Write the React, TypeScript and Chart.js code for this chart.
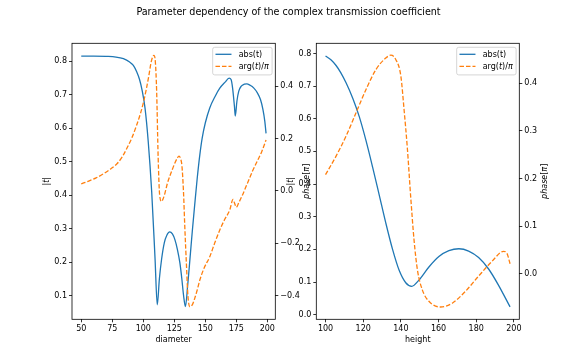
import { useEffect, useRef } from "react";
import { Chart, registerables } from "chart.js";
Chart.register(...registerables);

const TITLE = "Parameter dependency of the complex transmission coefficient";

// ---- left panel: diameter sweep ----
const diameterAbsX = [50, 60, 70, 78, 84, 89, 92, 94.7, 97, 99, 101.4, 104, 106.8, 109.5, 111.3, 113, 114.8, 117, 119, 121.3, 123.5, 125.5, 127.5, 129.5, 131, 132.5, 134, 135.8, 137.6, 139.6, 141.6, 143.5, 145.6, 147.5, 150, 153.6, 158, 161.7, 166, 169.2, 170.8, 172, 173.5, 174.2, 175.5, 177, 179, 181.5, 183.5, 186, 189, 192, 194.5, 196.5, 198, 199];
const diameterAbsY = [0.815, 0.815, 0.814, 0.812, 0.807, 0.797, 0.787, 0.768, 0.745, 0.714, 0.66, 0.56, 0.41, 0.21, 0.072, 0.15, 0.209, 0.258, 0.28, 0.29, 0.284, 0.267, 0.238, 0.198, 0.153, 0.1, 0.067, 0.13, 0.207, 0.295, 0.376, 0.45, 0.52, 0.57, 0.615, 0.66, 0.695, 0.719, 0.737, 0.749, 0.745, 0.72, 0.665, 0.636, 0.68, 0.71, 0.725, 0.731, 0.732, 0.728, 0.72, 0.705, 0.685, 0.655, 0.62, 0.584];
const diameterArgX = [50, 56, 62, 68, 74, 79, 83, 87, 91, 94.7, 98, 100.5, 102.5, 104.5, 106.5, 108.6, 109.8, 110.8, 112, 113.2, 114.8, 116, 117.5, 119.5, 121.5, 123.5, 125.5, 127.5, 128.8, 130.2, 131.2, 132.4, 133.6, 134.8, 136, 137.6, 139.5, 141.5, 143.5, 145.6, 149, 153.6, 157.5, 161.7, 165.5, 169.7, 172.4, 173.5, 175, 177, 180, 184, 188, 192, 195.5, 199];
const diameterArgY = [0.027, 0.038, 0.05, 0.066, 0.085, 0.105, 0.13, 0.165, 0.205, 0.252, 0.3, 0.345, 0.39, 0.44, 0.495, 0.518, 0.49, 0.38, 0.13, -0.015, -0.04, -0.03, -0.008, 0.03, 0.058, 0.083, 0.107, 0.126, 0.133, 0.122, 0.095, 0.0, -0.15, -0.28, -0.4, -0.442, -0.435, -0.41, -0.378, -0.34, -0.295, -0.251, -0.2, -0.149, -0.11, -0.073, -0.032, -0.045, -0.062, -0.045, -0.015, 0.03, 0.075, 0.115, 0.15, 0.195];

// ---- right panel: height sweep ----
const heightAbsX = [100, 103, 105.6, 108, 110.9, 114.5, 118, 121.5, 125, 128.5, 132, 135.6, 139.1, 142.6, 145.8, 149.6, 154.9, 160.2, 165.5, 170.8, 176, 181.3, 186.6, 191.9, 198];
const heightAbsY = [0.792, 0.78, 0.763, 0.742, 0.71, 0.662, 0.605, 0.533, 0.452, 0.367, 0.281, 0.2, 0.136, 0.098, 0.087, 0.106, 0.146, 0.178, 0.196, 0.202, 0.195, 0.175, 0.14, 0.09, 0.024];
const heightArgX = [100, 105.6, 110.9, 116.2, 121.5, 126.8, 132, 134.7, 137.3, 140, 141.7, 143.5, 145.2, 147, 148.8, 151.4, 154.9, 161.1, 167.3, 174.3, 181.3, 188.4, 194.5, 196.3, 198];
const heightArgY = [0.208, 0.247, 0.289, 0.338, 0.387, 0.429, 0.453, 0.459, 0.45, 0.415, 0.345, 0.261, 0.163, 0.071, 0.008, -0.034, -0.058, -0.07, -0.062, -0.037, -0.005, 0.026, 0.047, 0.043, 0.021];

// ---- ticks ----
const diameterTicks = [50, 75, 100, 125, 150, 175, 200];
const diameterTickLabels = ["50", "75", "100", "125", "150", "175", "200"];
const diameterAbsTicks = [0.1, 0.2, 0.3, 0.4, 0.5, 0.6, 0.7, 0.8];
const diameterAbsTickLabels = ["0.1", "0.2", "0.3", "0.4", "0.5", "0.6", "0.7", "0.8"];
const diameterArgTicks = [-0.4, -0.2, 0, 0.2, 0.4];
const diameterArgTickLabels = ["\u22120.4", "\u22120.2", "0.0", "0.2", "0.4"];

const heightTicks = [100, 120, 140, 160, 180, 200];
const heightTickLabels = ["100", "120", "140", "160", "180", "200"];
const heightAbsTicks = [0, 0.1, 0.2, 0.3, 0.4, 0.5, 0.6, 0.7, 0.8];
const heightAbsTickLabels = ["0.0", "0.1", "0.2", "0.3", "0.4", "0.5", "0.6", "0.7", "0.8"];
const heightArgTicks = [0, 0.1, 0.2, 0.3, 0.4];
const heightArgTickLabels = ["0.0", "0.1", "0.2", "0.3", "0.4"];

const FONT = '"DejaVu Sans", "Liberation Sans", sans-serif';
const BLUE = "#1f77b4";
const ORANGE = "#ff7f0e";
const W = 577;
const H = 359;

type Seg = { t: string; i?: boolean };

function fontStr(size: number, italic?: boolean) {
  return `${italic ? "italic " : ""}${size}px ${FONT}`;
}
function richWidth(ctx: CanvasRenderingContext2D, segs: Seg[], size: number) {
  let w = 0;
  for (const s of segs) {
    ctx.font = fontStr(size, s.i);
    w += ctx.measureText(s.t).width;
  }
  return w;
}
function drawRich(ctx: CanvasRenderingContext2D, segs: Seg[], size: number, x: number, y: number) {
  let cx = x;
  ctx.textAlign = "left";
  for (const s of segs) {
    ctx.font = fontStr(size, s.i);
    ctx.fillText(s.t, cx, y);
    cx += ctx.measureText(s.t).width;
  }
}

const absLabel: Seg[] = [{ t: "abs(t)" }];
const argLabel: Seg[] = [{ t: "arg(" }, { t: "t", i: true }, { t: ")/" }, { t: "\u03c0", i: true }];
const absAxisLabel: Seg[] = [{ t: "|" }, { t: "t", i: true }, { t: "|" }];
const phaseAxisLabel: Seg[] = [{ t: "phase", i: true }, { t: "[" }, { t: "\u03c0", i: true }, { t: "]" }];

type Panel = {
  area: { left: number; top: number; right: number; bottom: number };
  absX: number[]; absY: number[]; argX: number[]; argY: number[];
  xMin: number; xMax: number; yMin: number; yMax: number; y1Min: number; y1Max: number;
  xTicks: number[]; xLabels: string[];
  yTicks: number[]; yLabels: string[];
  y1Ticks: number[]; y1Labels: string[];
  xTitle: string;
  yTitleOffset: number;
  y1TitleOffset: number;
  drawTitle: boolean;
};

const decorPlugin = {
  id: "decor",
  afterDraw(chart: any, _args: any, opts: any) {
    const p: Panel = opts.panel;
    const ctx: CanvasRenderingContext2D = chart.ctx;
    const a = chart.chartArea;
    ctx.save();
    // frame
    ctx.strokeStyle = "#000";
    ctx.lineWidth = 0.8;
    ctx.strokeRect(a.left, a.top, a.right - a.left, a.bottom - a.top);

    // legend
    const fs = 8;
    const tw = Math.max(richWidth(ctx, absLabel, fs), richWidth(ctx, argLabel, fs));
    const bw = 2.8 + 16 + 7.2 + tw + 3.4;
    const bh = 27.6;
    const bx = a.right - 3.2 - bw;
    const by = a.top + 4;
    ctx.beginPath();
    const r = 2;
    ctx.moveTo(bx + r, by);
    ctx.lineTo(bx + bw - r, by);
    ctx.arcTo(bx + bw, by, bx + bw, by + r, r);
    ctx.lineTo(bx + bw, by + bh - r);
    ctx.arcTo(bx + bw, by + bh, bx + bw - r, by + bh, r);
    ctx.lineTo(bx + r, by + bh);
    ctx.arcTo(bx, by + bh, bx, by + bh - r, r);
    ctx.lineTo(bx, by + r);
    ctx.arcTo(bx, by, bx + r, by, r);
    ctx.closePath();
    ctx.fillStyle = "rgba(255,255,255,0.8)";
    ctx.fill();
    ctx.strokeStyle = "#cccccc";
    ctx.lineWidth = 0.8;
    ctx.stroke();
    const rows = [
      { segs: absLabel, color: BLUE, dash: [] as number[] },
      { segs: argLabel, color: ORANGE, dash: [4.5, 2] },
    ];
    rows.forEach((row, i) => {
      const cy = by + 7 + i * 12;
      ctx.beginPath();
      ctx.setLineDash(row.dash);
      ctx.strokeStyle = row.color;
      ctx.lineWidth = 1.3;
      ctx.moveTo(bx + 2.8, cy);
      ctx.lineTo(bx + 18.8, cy);
      ctx.stroke();
      ctx.setLineDash([]);
      ctx.fillStyle = "#000";
      ctx.textBaseline = "middle";
      drawRich(ctx, row.segs, fs, bx + 26, cy + 0.5);
    });

    // axis titles
    ctx.fillStyle = "#000";
    ctx.textBaseline = "alphabetic";
    ctx.font = fontStr(8);
    ctx.textAlign = "center";
    ctx.fillText(p.xTitle, (a.left + a.right) / 2, a.bottom + 23);
    const cy = (a.top + a.bottom) / 2;
    const rot = (segs: Seg[], x: number) => {
      ctx.save();
      ctx.translate(x, cy);
      ctx.rotate(-Math.PI / 2);
      ctx.textBaseline = "middle";
      const w = richWidth(ctx, segs, 8);
      drawRich(ctx, segs, 8, -w / 2, 0);
      ctx.restore();
    };
    rot(absAxisLabel, a.left - p.yTitleOffset);
    rot(phaseAxisLabel, a.right + p.y1TitleOffset);

    if (p.drawTitle) {
      ctx.font = fontStr(9.6);
      ctx.textAlign = "center";
      ctx.textBaseline = "alphabetic";
      ctx.fillText(TITLE, W / 2, 14.5);
    }
    ctx.restore();
  },
};

function makeConfig(p: Panel): any {
  const yW = 40, y1W = 40, xH = 25;
  const tickFont = { family: FONT, size: 8 };
  const grid = { display: true, drawOnChartArea: false, drawTicks: true, tickLength: 3, color: "#000", lineWidth: 0.8 };
  const setTicks = (vals: number[]) => (s: any) => {
    s.ticks = vals.map((v) => ({ value: v }));
  };
  return {
    type: "line",
    data: {
      datasets: [
        {
          label: "arg(t)/\u03c0",
          data: p.argX.map((x, i) => ({ x, y: p.argY[i] })),
          borderColor: ORANGE,
          borderWidth: 1.3,
          borderDash: [4.5, 2],
          pointRadius: 0,
          cubicInterpolationMode: "monotone",
          yAxisID: "y1",
          order: 0,
        },
        {
          label: "abs(t)",
          data: p.absX.map((x, i) => ({ x, y: p.absY[i] })),
          borderColor: BLUE,
          borderWidth: 1.3,
          pointRadius: 0,
          cubicInterpolationMode: "monotone",
          yAxisID: "y",
          order: 1,
        },
      ],
    },
    options: {
      animation: false,
      responsive: false,
      events: [],
      layout: {
        padding: {
          left: p.area.left - yW,
          right: W - p.area.right - y1W,
          top: p.area.top,
          bottom: H - p.area.bottom - xH,
        },
      },
      plugins: {
        legend: { display: false },
        title: { display: false },
        tooltip: { enabled: false },
        decor: { panel: p },
      },
      scales: {
        x: {
          type: "linear",
          position: "bottom",
          min: p.xMin,
          max: p.xMax,
          afterBuildTicks: setTicks(p.xTicks),
          afterFit: (s: any) => { s.height = xH; },
          ticks: { autoSkip: false, maxRotation: 0, padding: 2, color: "#000", font: tickFont, callback: (_v: any, i: number) => p.xLabels[i] },
          grid,
          border: { display: false },
        },
        y: {
          type: "linear",
          position: "left",
          min: p.yMin,
          max: p.yMax,
          afterBuildTicks: setTicks(p.yTicks),
          afterFit: (s: any) => { s.width = yW; },
          ticks: { autoSkip: false, padding: 2, color: "#000", font: tickFont, callback: (_v: any, i: number) => p.yLabels[i] },
          grid,
          border: { display: false },
        },
        y1: {
          type: "linear",
          position: "right",
          min: p.y1Min,
          max: p.y1Max,
          afterBuildTicks: setTicks(p.y1Ticks),
          afterFit: (s: any) => { s.width = y1W; },
          ticks: { autoSkip: false, padding: 2, color: "#000", font: tickFont, callback: (_v: any, i: number) => p.y1Labels[i] },
          grid,
          border: { display: false },
        },
      },
    },
    plugins: [decorPlugin],
  };
}

const leftPanel: Panel = {
  area: { left: 72, top: 43.3, right: 275.3, bottom: 319.3 },
  absX: diameterAbsX, absY: diameterAbsY, argX: diameterArgX, argY: diameterArgY,
  xMin: 42.55, xMax: 206.45, yMin: 0.029, yMax: 0.853, y1Min: -0.49, y1Max: 0.564,
  xTicks: diameterTicks, xLabels: diameterTickLabels,
  yTicks: diameterAbsTicks, yLabels: diameterAbsTickLabels,
  y1Ticks: diameterArgTicks, y1Labels: diameterArgTickLabels,
  xTitle: "diameter",
  yTitleOffset: 25,
  y1TitleOffset: 31.5,
  drawTitle: true,
};

const rightPanel: Panel = {
  area: { left: 316.3, top: 43.3, right: 519.3, bottom: 319.3 },
  absX: heightAbsX, absY: heightAbsY, argX: heightArgX, argY: heightArgY,
  xMin: 95.1, xMax: 202.9, yMin: -0.014, yMax: 0.831, y1Min: -0.0958, y1Max: 0.484,
  xTicks: heightTicks, xLabels: heightTickLabels,
  yTicks: heightAbsTicks, yLabels: heightAbsTickLabels,
  y1Ticks: heightArgTicks, y1Labels: heightArgTickLabels,
  xTitle: "height",
  yTitleOffset: 25.5,
  y1TitleOffset: 25.7,
  drawTitle: false,
};

function PanelCanvas({ panel }: { panel: Panel }) {
  const ref = useRef<HTMLCanvasElement | null>(null);
  useEffect(() => {
    if (!ref.current) return;
    const chart = new Chart(ref.current, makeConfig(panel));
    return () => chart.destroy();
  }, [panel]);
  return (
    <canvas
      ref={ref}
      width={W}
      height={H}
      style={{ position: "absolute", left: 0, top: 0, width: W, height: H }}
    />
  );
}

export default function App() {
  return (
    <div style={{ position: "fixed", left: 0, top: 0, width: W, height: H, background: "#fff" }}>
      <PanelCanvas panel={leftPanel} />
      <PanelCanvas panel={rightPanel} />
    </div>
  );
}
